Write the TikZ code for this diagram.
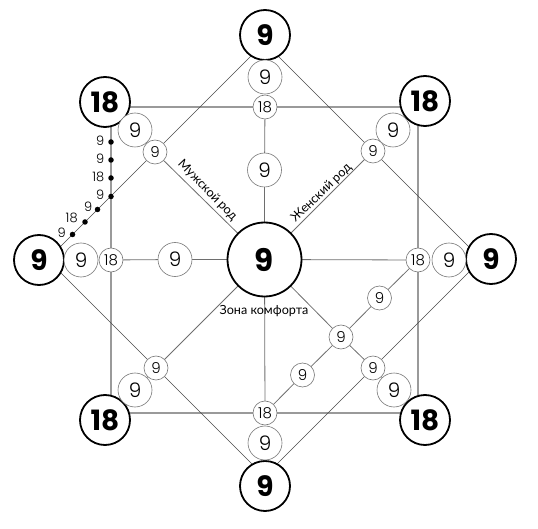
\documentclass[tikz,border=0pt]{standalone}
\usepackage{fontspec}
\setmainfont{Poppins}
\newfontfamily\lightfont{Poppins}[UprightFont=* Light]
\newfontfamily\cyr{Lato}
\usetikzlibrary{backgrounds}
\definecolor{sqcol}{HTML}{9A9A9A}
\definecolor{axcol}{HTML}{6E6E6E}
\definecolor{diacol}{HTML}{4A4A4A}
\definecolor{thincol}{HTML}{777777}
\begin{document}
\begin{tikzpicture}[x=1pt,y=-1pt,
  bignum/.style={circle, draw=black, line width=1.8pt, fill=white, minimum size=50pt, inner sep=0pt, font=\fontsize{28}{28}\selectfont\bfseries},
  centnum/.style={circle, draw=black, line width=1.8pt, fill=white, minimum size=74pt, inner sep=0pt, font=\fontsize{31}{31}\selectfont\bfseries},
  mednum/.style={circle, draw=thincol, line width=0.6pt, fill=white, minimum size=34pt, inner sep=0pt, font=\lightfont\fontsize{20}{20}\selectfont},
  smlnum/.style={circle, draw=thincol, line width=0.6pt, fill=white, minimum size=24pt, inner sep=0pt, font=\lightfont\fontsize{15}{15}\selectfont},
  dotnode/.style={circle, fill=black, inner sep=0pt, minimum size=5.5pt},
  dotlabel/.style={inner sep=0pt, font=\lightfont\fontsize{13}{13}\selectfont},
  txtlabel/.style={inner sep=0pt, font=\cyr\fontsize{12.6}{14}\selectfont},
  sqline/.style={draw=sqcol, line width=1.2pt},
  axline/.style={draw=axcol, line width=0.8pt},
  dialine/.style={draw=diacol, line width=0.6pt}]
\useasboundingbox (0,0) rectangle (538,529);
% square corners and diamond vertices
\coordinate (qTL) at (111,107);
\coordinate (qTR) at (418,107);
\coordinate (qBR) at (418,413);
\coordinate (qBL) at (111,413);
\coordinate (dT) at (264.5,42.5);
\coordinate (dR) at (481.5,259.5);
\coordinate (dB) at (264.5,476.5);
\coordinate (dL) at (47.5,259.5);
% big nodes
\node[centnum] (C) at (264.5,259.5) {9};
\node[bignum] (T) at (265,35) {9};
\node[bignum] (B) at (265,486) {9};
\node[bignum] (L) at (39,260) {9};
\node[bignum] (R) at (491,259) {9};
\node[bignum] (TL) at (105,102) {18};
\node[bignum] (TR) at (425,101) {18};
\node[bignum] (BL) at (105,420) {18};
\node[bignum] (BR) at (425,420) {18};
% axis nodes
\node[mednum] (Tm) at (265,77) {9};
\node[smlnum] (t18) at (265,107) {18};
\node[smlnum] (b18) at (265,413) {18};
\node[mednum] (Bm) at (265,443) {9};
\node[mednum] (Lm) at (81,260) {9};
\node[smlnum] (l18) at (111,260) {18};
\node[smlnum] (r18) at (418,260) {18};
\node[mednum] (Rm) at (449,260) {9};
\node[mednum] (Ti) at (264.5,170) {9};
\node[mednum] (Li) at (175,259.5) {9};
% diagonal nodes
\node[smlnum] (ULs) at (155,152) {9};
\node[mednum] (ULm) at (135,130) {9};
\node[smlnum] (URs) at (373,151) {9};
\node[mednum] (URm) at (393,130) {9};
\node[smlnum] (LLs) at (156,368) {9};
\node[mednum] (LLm) at (135,390) {9};
\node[smlnum] (LRs) at (373,368) {9};
\node[mednum] (LRm) at (394,390) {9};
% chain nodes
\node[smlnum] (ch1) at (379.5,298) {9};
\node[smlnum] (ch2) at (341,337) {9};
\node[smlnum] (ch3) at (302.5,375) {9};
% dots
\node[dotnode] (v1) at (111,142) {};
\node[dotnode] (v2) at (111,160) {};
\node[dotnode] (v3) at (111,178) {};
\node[dotnode] (v4) at (111,196.5) {};
\node[dotnode] (w1) at (97.5,209.5) {};
\node[dotnode] (w2) at (85,222) {};
\node[dotnode] (w3) at (72.5,234.5) {};
\node[dotlabel, anchor=east] at (104.5,140.5) {9};
\node[dotlabel, anchor=east] at (104.5,158.5) {9};
\node[dotlabel, anchor=east] at (104.5,177) {18};
\node[dotlabel, anchor=east] at (104.5,195) {9};
\node[dotlabel] at (88.3,206.5) {9};
\node[dotlabel] at (71.7,217.5) {18};
\node[dotlabel] at (61.7,232.5) {9};
% text labels
\node[txtlabel, rotate=-46] at (207.5,190.5) {Мужской род};
\node[txtlabel, rotate=44] at (321.5,193) {Женский род};
\node[txtlabel] at (264,311) {Зона комфорта};
% lines
\begin{scope}[on background layer]
\draw[sqline] (qTL) -- (t18.center) -- (qTR) -- (r18.center) -- (qBR) -- (b18.center) -- (qBL) -- (l18.center) -- cycle;
\draw[dialine] (dT) -- (URs.center) -- (dR) -- (LRs.center) -- (dB) -- (LLs.center) -- (dL) -- (ULs.center) -- cycle;
\draw[axline] (t18.center) -- (Ti.center) -- (C.center) -- (b18.center);
\draw[axline] (l18.center) -- (Li.center) -- (C.center) -- (r18.center);
\draw[axline] (C.center) -- (ULs.center) -- (ULm.center) -- (TL.center);
\draw[axline] (C.center) -- (URs.center) -- (URm.center) -- (TR.center);
\draw[axline] (C.center) -- (LLs.center) -- (LLm.center) -- (BL.center);
\draw[axline] (C.center) -- (ch2.center) -- (LRs.center) -- (LRm.center) -- (BR.center);
\draw[axline] (r18.center) -- (ch1.center) -- (ch2.center) -- (ch3.center) -- (b18.center);
\end{scope}
\end{tikzpicture}
\end{document}
